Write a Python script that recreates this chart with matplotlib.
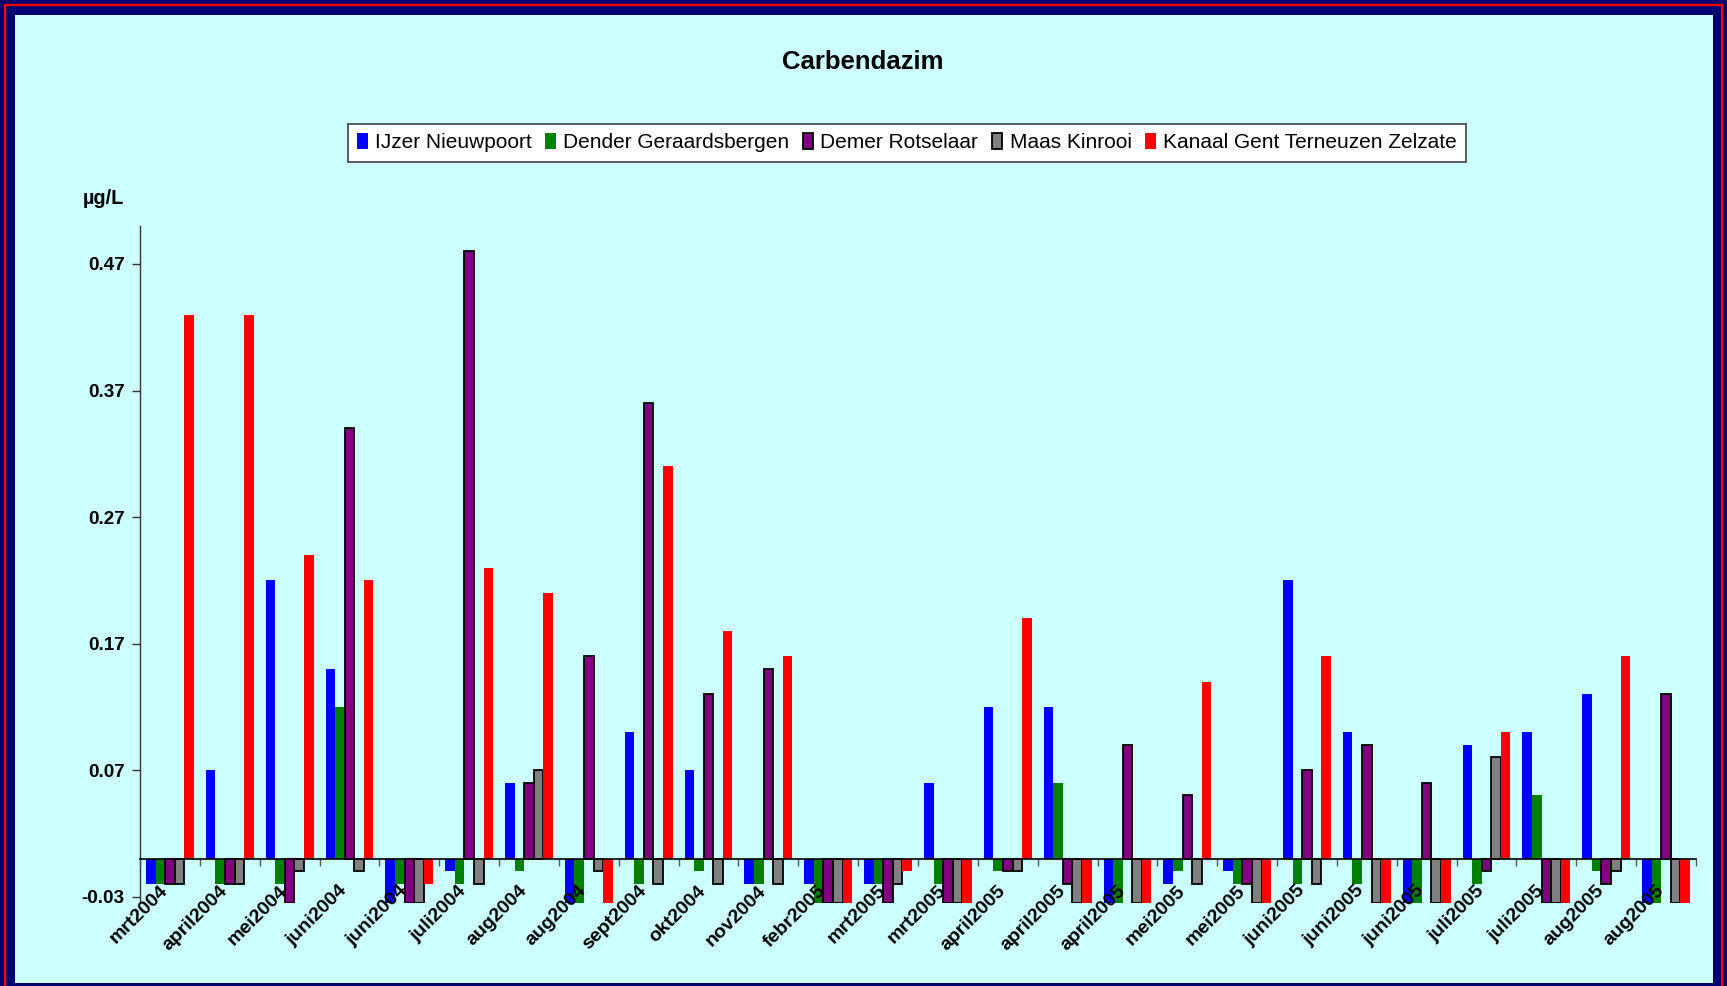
import matplotlib
matplotlib.use("Agg")
import matplotlib.pyplot as plt
import matplotlib.transforms as mtransforms
import numpy as np
from matplotlib.patches import Rectangle

plt.rcParams["font.family"] = ["Liberation Sans", "DejaVu Sans"]

# sampling dates
months = ["mrt2004", "april2004", "mei2004", "juni2004", "juni2004", "juli2004",
          "aug2004", "aug2004", "sept2004", "okt2004", "nov2004", "febr2005",
          "mrt2005", "mrt2005", "april2005", "april2005", "april2005", "mei2005",
          "mei2005", "juni2005", "juni2005", "juni2005", "juli2005", "juli2005",
          "aug2005", "aug2005"]

# Carbendazim concentrations (µg/L) per station
ijzer_nieuwpoort = [-0.02, 0.07, 0.22, 0.15, -0.035, -0.01, 0.06, -0.035, 0.10, 0.07,
                    -0.02, -0.02, -0.02, 0.06, 0.12, 0.12, -0.035, -0.02, -0.01, 0.22,
                    0.10, -0.035, 0.09, 0.10, 0.13, -0.035]
dender_geraardsbergen = [-0.02, -0.02, -0.02, 0.12, -0.02, -0.02, -0.01, -0.035, -0.02, -0.01,
                         -0.02, -0.035, -0.02, -0.02, -0.01, 0.06, -0.035, -0.01, -0.02, -0.02,
                         -0.02, -0.035, -0.02, 0.05, -0.01, -0.035]
demer_rotselaar = [-0.02, -0.02, -0.035, 0.34, -0.035, 0.48, 0.06, 0.16, 0.36, 0.13,
                   0.15, -0.035, -0.035, -0.035, -0.01, -0.02, 0.09, 0.05, -0.02, 0.07,
                   0.09, 0.06, -0.01, -0.035, -0.02, 0.13]
maas_kinrooi = [-0.02, -0.02, -0.01, -0.01, -0.035, -0.02, 0.07, -0.01, -0.02, -0.02,
                -0.02, -0.035, -0.02, -0.035, -0.01, -0.035, -0.035, -0.02, -0.035, -0.02,
                -0.035, -0.035, 0.08, -0.035, -0.01, -0.035]
kanaal_gent_terneuzen = [0.43, 0.43, 0.24, 0.22, -0.02, 0.23, 0.21, -0.035, 0.31, 0.18,
                         0.16, -0.035, -0.01, -0.035, 0.19, -0.035, -0.035, 0.14, -0.035, 0.16,
                         -0.035, -0.035, 0.10, -0.035, 0.16, -0.035]

series_names = ["IJzer Nieuwpoort", "Dender Geraardsbergen", "Demer Rotselaar",
                "Maas Kinrooi", "Kanaal Gent Terneuzen Zelzate"]
series_values = [ijzer_nieuwpoort, dender_geraardsbergen, demer_rotselaar,
                 maas_kinrooi, kanaal_gent_terneuzen]
series_colors = ["#0000FF", "#008000", "#800080", "#808080", "#FF0000"]
series_outlined = [False, False, True, True, False]

yticks = [-0.03, 0.07, 0.17, 0.27, 0.37, 0.47]

W, H = 1727, 986
NAVY = "#000070"
CYAN = "#CCFFFF"

fig = plt.figure(figsize=(W / 100, H / 100), dpi=100)
fig.patch.set_facecolor(NAVY)


def px_rect(x0, y0, x1, y1, **kw):
    return Rectangle((x0 / W, 1 - y1 / H), (x1 - x0) / W, (y1 - y0) / H,
                     transform=fig.transFigure, **kw)


# framed panel behind the axes
fig.patches.append(px_rect(15, 15, 1713, 983, facecolor=CYAN, edgecolor="none", zorder=-2))
fig.patches.append(px_rect(5, 5, 1722, 995, facecolor="none", edgecolor="#FF0000",
                           linewidth=1.6, zorder=-1))

ax = fig.add_axes([140 / W, 1 - 903 / H, 1556 / W, 677 / H])
ax.set_facecolor("none")
ax.set_axisbelow(False)  # category labels are written over the bars

x = np.arange(len(months))
bw = 0.16
for k, (name, vals, col, outl) in enumerate(zip(series_names, series_values,
                                                 series_colors, series_outlined)):
    ax.bar(x + (k - 2) * bw, vals, width=bw, color=col,
           edgecolor="black" if outl else "none", linewidth=1.3 if outl else 0,
           label=name, zorder=2)

ax.set_xlim(-0.5, len(months) - 0.5)
ax.set_ylim(-0.035, 0.50)

for s in ["top", "right"]:
    ax.spines[s].set_visible(False)
ax.spines["bottom"].set_position(("data", 0))
ax.spines["bottom"].set_linewidth(1.2)
ax.spines["bottom"].set_zorder(3)
ax.spines["left"].set_linewidth(1.0)
ax.spines["left"].set_color("#333333")

ax.set_yticks(yticks)
ax.set_yticklabels([f"{v:.2f}" for v in yticks], fontsize=13.6, fontweight="bold")
ax.tick_params(axis="y", direction="out", length=6, width=1, pad=5, color="#333333")

ax.set_xticks(x)
ax.set_xticklabels(months, rotation=45, ha="right", rotation_mode="anchor",
                   fontsize=14, fontweight="bold")
ax.tick_params(axis="x", which="major", length=0, pad=17)
ax.set_xticks(np.arange(len(months) + 1) - 0.5, minor=True)
ax.tick_params(axis="x", which="minor", direction="out", length=5, width=1, color="#555555")
shift = mtransforms.ScaledTranslation(-11 / 100, 0, fig.dpi_scale_trans)
for lbl in ax.get_xticklabels():
    lbl.set_transform(lbl.get_transform() + shift)

fig.text(863 / W, 1 - 62 / H, "Carbendazim", ha="center", va="center",
         fontsize=18.5, fontweight="bold")
fig.text(83 / W, 1 - 198 / H, "µg/L", ha="left", va="center",
         fontsize=14.3, fontweight="bold")

leg = ax.legend(loc="upper left", bbox_to_anchor=(348 / W, 1 - 124 / H),
                bbox_transform=fig.transFigure, ncol=5, fontsize=15,
                frameon=True, fancybox=False, edgecolor="#404040", facecolor="white",
                framealpha=1, borderaxespad=0, borderpad=0.45, handlelength=0.5,
                handleheight=0.75, handletextpad=0.35, columnspacing=0.65)
leg.get_frame().set_linewidth(1.2)
leg.set_zorder(5)

fig.savefig("out.png", dpi=100, facecolor=NAVY)
